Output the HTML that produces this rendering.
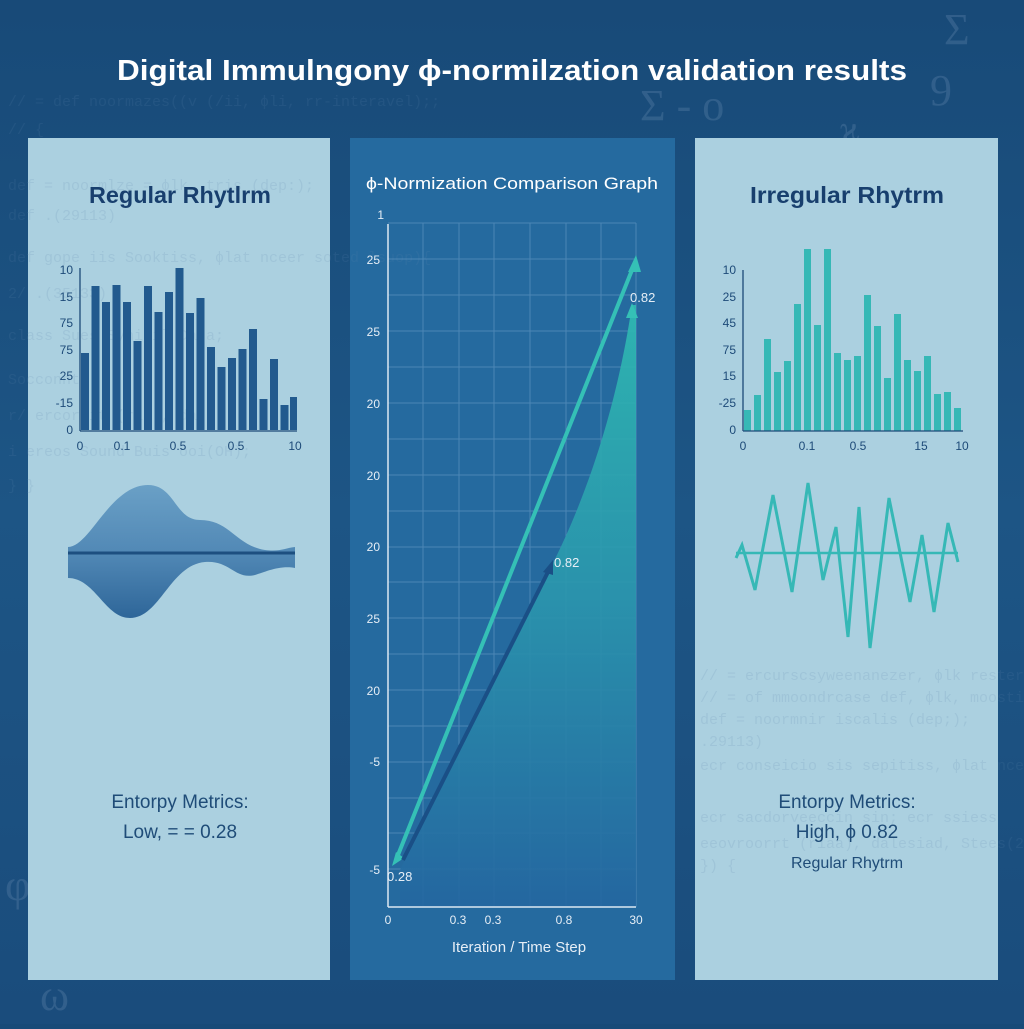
<!DOCTYPE html>
<html><head><meta charset="utf-8"><style>
body{margin:0;width:1024px;height:1024px;overflow:hidden;background:linear-gradient(180deg,#184a78,#1d5585 50%,#1a4c7c);font-family:"Liberation Sans","DejaVu Sans",sans-serif;}
</style></head><body>
<svg width="1024" height="1024" viewBox="0 0 1024 1024" xmlns="http://www.w3.org/2000/svg">
<defs>
<linearGradient id="fill" x1="0" y1="0" x2="0" y2="1">
<stop offset="0" stop-color="#2fbcb2"/><stop offset="0.5" stop-color="#2a95ad"/><stop offset="1" stop-color="#2466a0"/></linearGradient>
<linearGradient id="wv" x1="0" y1="0" x2="0" y2="1">
<stop offset="0" stop-color="#6aa0c6"/><stop offset="0.5" stop-color="#5289b6"/><stop offset="1" stop-color="#2e6699"/></linearGradient>
</defs>
<g font-family="Liberation Serif,serif" fill="#4a739c" opacity="0.5" font-size="44">
<text x="944" y="44">Σ</text><text x="640" y="120">Σ - o</text><text x="930" y="105">9</text><text x="840" y="140" font-size="34">ϗ</text>
<text x="5" y="900">φ</text><text x="40" y="1010">ω</text>
</g>
<text x="512" y="80" text-anchor="middle" fill="#fff" font-size="29" font-weight="bold" textLength="790" lengthAdjust="spacingAndGlyphs">Digital Immulngony ϕ-normilzation validation results</text>

<rect x="28" y="138" width="302" height="842" fill="#abd0e0"/>
<rect x="350" y="138" width="325" height="842" fill="#256a9f"/>
<rect x="695" y="138" width="303" height="842" fill="#abd0e0"/>

<g font-family="Liberation Mono,monospace" font-size="15" fill="#5f86ad" opacity="0.15">
<text x="8" y="106">// = def noormazes((v (/ii, ϕli, rr-interavel);;</text>
<text x="8" y="134">// {</text>
<text x="8" y="190">def = noormlze = ϕlk, tris (dep:);</text>
<text x="8" y="220">def .(29113)</text>
<text x="8" y="262">def  gope iis Sooktiss, ϕlat nceer soted lsuop){</text>
<text x="8" y="298">2/  .(35133)</text>
<text x="8" y="340">class Sues Synitil Data;</text>
<text x="8" y="384">Socconnt</text>
<text x="8" y="420">r/ ercoroit (rae), data</text>
<text x="8" y="456">i ereos Sound Buis ooi(OH);</text>
<text x="8" y="490">}  }</text>
<text x="700" y="680">// = ercurscsyweenanezer, ϕlk resterva</text>
<text x="700" y="702">// = of mmoondrcase def, ϕlk, moostion</text>
<text x="700" y="724">def = noormnir iscalis (dep;);</text>
<text x="700" y="746">.29113)</text>
<text x="700" y="770">ecr conseicio sis sepitiss, ϕlat nceel</text>
<text x="700" y="822">ecr  sacdorveeccin sin; ecr ssiess</text>
<text x="700" y="848">eeovroorrt (riaa), dalesiad, Stees(20);</text>
<text x="700" y="870">}) {</text>
</g>

<text x="180" y="203" text-anchor="middle" fill="#183f6e" font-size="23" font-weight="bold" textLength="182" lengthAdjust="spacingAndGlyphs">Regular Rhytlrm</text>
<g fill="#225a8e">
<rect x="81" y="353" width="8" height="77"/><rect x="91.5" y="286" width="8" height="144"/><rect x="102" y="302" width="8" height="128"/><rect x="112.5" y="285" width="8" height="145"/><rect x="123" y="302" width="8" height="128"/><rect x="133.5" y="341" width="8" height="89"/><rect x="144" y="286" width="8" height="144"/><rect x="154.5" y="312" width="8" height="118"/><rect x="165" y="292" width="8" height="138"/><rect x="175.5" y="268" width="8" height="162"/><rect x="186" y="313" width="8" height="117"/><rect x="196.5" y="298" width="8" height="132"/><rect x="207" y="347" width="8" height="83"/><rect x="217.5" y="367" width="8" height="63"/><rect x="228" y="358" width="8" height="72"/><rect x="238.5" y="349" width="8" height="81"/><rect x="249" y="329" width="8" height="101"/><rect x="259.5" y="399" width="8" height="31"/><rect x="270" y="359" width="8" height="71"/><rect x="280.5" y="405" width="8" height="25"/><rect x="290" y="397" width="7" height="33"/>
</g>
<g stroke="#1d4a78" stroke-width="1.3"><line x1="80" y1="268" x2="80" y2="431"/><line x1="80" y1="431" x2="297" y2="431"/></g>
<g fill="#1d4a78" font-size="12" text-anchor="end">
<text x="73" y="274">10</text><text x="73" y="301">15</text><text x="73" y="327">75</text><text x="73" y="354">75</text><text x="73" y="380">25</text><text x="73" y="407">-15</text><text x="73" y="434">0</text></g>
<g fill="#1d4a78" font-size="12" text-anchor="middle"><text x="80" y="450">0</text><text x="122" y="450">0.1</text><text x="178" y="450">0.5</text><text x="236" y="450">0.5</text><text x="295" y="450">10</text></g>
<path d="M68 547 C90 547 110 485 148 485 C175 485 175 520 200 520 C230 520 235 545 265 550 C280 552 285 548 295 547 L295 568 C280 565 265 572 255 575 C235 580 230 560 205 562 C170 565 160 618 130 618 C105 618 95 578 68 578 Z" fill="url(#wv)"/>
<line x1="68" y1="553" x2="295" y2="553" stroke="#1d4f80" stroke-width="3"/>
<text x="180" y="808" text-anchor="middle" fill="#1f4c78" font-size="19">Entorpy Metrics:</text>
<text x="180" y="838" text-anchor="middle" fill="#1f4c78" font-size="19">Low, = = 0.28</text>

<text x="512" y="189" text-anchor="middle" fill="#fff" font-size="17" textLength="292" lengthAdjust="spacingAndGlyphs">ϕ-Normization Comparison Graph</text>
<g stroke="#5c92c0" stroke-width="1" opacity="0.7">
<line x1="388" y1="223" x2="636" y2="223"/><line x1="388" y1="259" x2="636" y2="259"/><line x1="388" y1="295" x2="636" y2="295"/><line x1="388" y1="331" x2="636" y2="331"/><line x1="388" y1="367" x2="636" y2="367"/><line x1="388" y1="403" x2="636" y2="403"/><line x1="388" y1="439" x2="636" y2="439"/><line x1="388" y1="475" x2="636" y2="475"/><line x1="388" y1="511" x2="636" y2="511"/><line x1="388" y1="547" x2="636" y2="547"/><line x1="388" y1="582" x2="636" y2="582"/><line x1="388" y1="618" x2="636" y2="618"/><line x1="388" y1="654" x2="636" y2="654"/><line x1="388" y1="690" x2="636" y2="690"/><line x1="388" y1="726" x2="636" y2="726"/><line x1="388" y1="762" x2="636" y2="762"/><line x1="388" y1="798" x2="636" y2="798"/><line x1="388" y1="833" x2="636" y2="833"/><line x1="388" y1="869" x2="636" y2="869"/>
<line x1="423" y1="223" x2="423" y2="907"/><line x1="459" y1="223" x2="459" y2="907"/><line x1="494" y1="223" x2="494" y2="907"/><line x1="530" y1="223" x2="530" y2="907"/><line x1="566" y1="223" x2="566" y2="907"/><line x1="601" y1="223" x2="601" y2="907"/><line x1="636" y1="223" x2="636" y2="907"/>
</g>
<path d="M400 870 L552 565 C580 510 615 420 632 305 L636 305 L636 907 L400 907 Z" fill="url(#fill)" opacity="0.9"/>
<g stroke="#dce8f2" stroke-width="1.5"><line x1="388" y1="224" x2="388" y2="907"/><line x1="388" y1="907" x2="636" y2="907"/></g>
<g fill="#e6eef6" font-size="12" text-anchor="end">
<text x="384" y="219">1</text><text x="380" y="264">25</text><text x="380" y="336">25</text><text x="380" y="408">20</text><text x="380" y="480">20</text><text x="380" y="551">20</text><text x="380" y="623">25</text><text x="380" y="695">20</text><text x="380" y="766">-5</text><text x="380" y="874">-5</text></g>
<g fill="#e6eef6" font-size="12" text-anchor="middle"><text x="388" y="924">0</text><text x="458" y="924">0.3</text><text x="493" y="924">0.3</text><text x="564" y="924">0.8</text><text x="636" y="924">30</text></g>
<text x="519" y="952" text-anchor="middle" fill="#e6eef6" font-size="15">Iteration / Time Step</text>
<line x1="396" y1="860" x2="634" y2="265" stroke="#35c0b6" stroke-width="4"/>
<polygon points="636,255 628,272 641,272" fill="#35c0b6"/>
<polygon points="392,866 396,852 404,858" fill="#35c0b6"/>
<polygon points="632,303 626,318 638,318" fill="#35c0b6"/>
<line x1="403" y1="860" x2="550" y2="568" stroke="#1a4f86" stroke-width="4"/>
<polygon points="553,560 543,572 553,575" fill="#1a4f86"/>
<text x="630" y="302" fill="#e6eef6" font-size="13">0.82</text>
<text x="554" y="567" fill="#e6eef6" font-size="13">0.82</text>
<text x="387" y="881" fill="#e6eef6" font-size="13">0.28</text>

<text x="847" y="203" text-anchor="middle" fill="#183f6e" font-size="23" font-weight="bold" textLength="194" lengthAdjust="spacingAndGlyphs">Irregular Rhytrm</text>
<g fill="#36b8b6">
<rect x="744" y="410" width="7" height="21"/><rect x="754" y="395" width="7" height="36"/><rect x="764" y="339" width="7" height="92"/><rect x="774" y="372" width="7" height="59"/><rect x="784" y="361" width="7" height="70"/><rect x="794" y="304" width="7" height="127"/><rect x="804" y="249" width="7" height="182"/><rect x="814" y="325" width="7" height="106"/><rect x="824" y="249" width="7" height="182"/><rect x="834" y="353" width="7" height="78"/><rect x="844" y="360" width="7" height="71"/><rect x="854" y="356" width="7" height="75"/><rect x="864" y="295" width="7" height="136"/><rect x="874" y="326" width="7" height="105"/><rect x="884" y="378" width="7" height="53"/><rect x="894" y="314" width="7" height="117"/><rect x="904" y="360" width="7" height="71"/><rect x="914" y="371" width="7" height="60"/><rect x="924" y="356" width="7" height="75"/><rect x="934" y="394" width="7" height="37"/><rect x="944" y="392" width="7" height="39"/><rect x="954" y="408" width="7" height="23"/>
</g>
<g stroke="#1d4a78" stroke-width="1.3"><line x1="743" y1="270" x2="743" y2="431"/><line x1="743" y1="431" x2="963" y2="431"/></g>
<g fill="#1d4a78" font-size="12" text-anchor="end">
<text x="736" y="274">10</text><text x="736" y="301">25</text><text x="736" y="327">45</text><text x="736" y="354">75</text><text x="736" y="380">15</text><text x="736" y="407">-25</text><text x="736" y="434">0</text></g>
<g fill="#1d4a78" font-size="12" text-anchor="middle"><text x="743" y="450">0</text><text x="807" y="450">0.1</text><text x="858" y="450">0.5</text><text x="921" y="450">15</text><text x="962" y="450">10</text></g>
<line x1="736" y1="553" x2="958" y2="553" stroke="#36b8b6" stroke-width="2.5"/>
<polyline points="736,558 742,545 755,590 773,495 792,592 808,483 823,580 836,527 848,637 859,507 870,648 889,498 910,602 922,535 934,612 948,523 958,562" fill="none" stroke="#36b8b6" stroke-width="3" stroke-linejoin="miter"/>
<text x="847" y="808" text-anchor="middle" fill="#1f4c78" font-size="19">Entorpy Metrics:</text>
<text x="847" y="838" text-anchor="middle" fill="#1f4c78" font-size="19">High, ϕ 0.82</text>
<text x="847" y="868" text-anchor="middle" fill="#1f4c78" font-size="16">Regular Rhytrm</text>
</svg>
</body></html>
